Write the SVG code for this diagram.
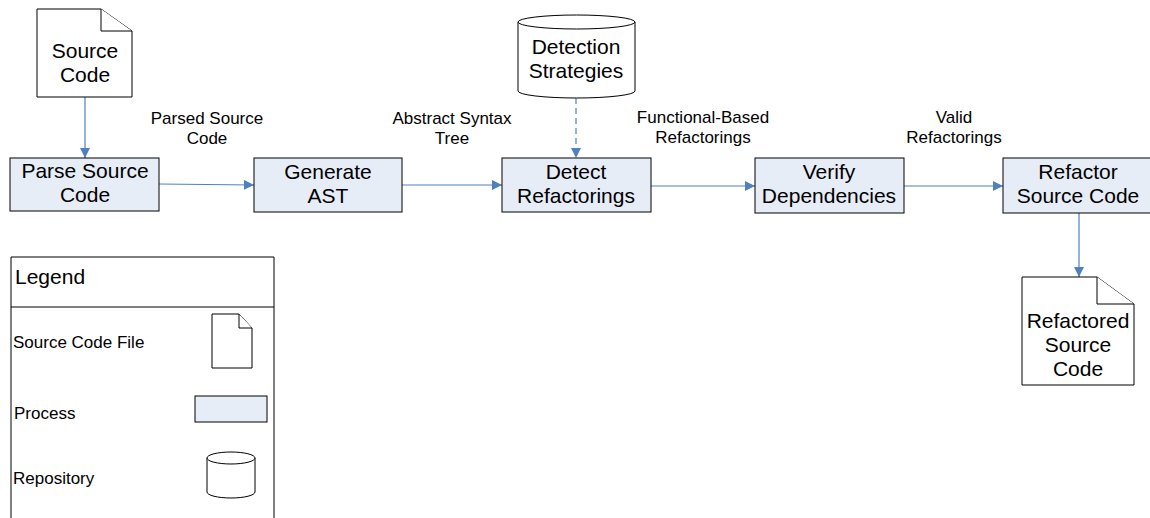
<svg xmlns="http://www.w3.org/2000/svg" width="1150" height="518" viewBox="0 0 1150 518">
  <style>
    .proc { fill: #e7edf7; stroke: #000; stroke-width: 1; }
    .shape { fill: #fff; stroke: #000; stroke-width: 1; }
    .box-t { font-family: "Liberation Sans", Arial, sans-serif; font-size: 21px; fill: #000; text-anchor: middle; }
    .lbl { font-family: "Liberation Sans", Arial, sans-serif; font-size: 17px; fill: #000; text-anchor: middle; }
    .leg { font-family: "Liberation Sans", Arial, sans-serif; font-size: 17px; fill: #000; }
    .leg-title { font-family: "Liberation Sans", Arial, sans-serif; font-size: 21px; fill: #000; }
    .conn { stroke: #4f81bd; stroke-width: 1.2; fill: none; marker-end: url(#arrow); }
  </style>
  <defs>
    <marker id="arrow" viewBox="0 0 10 10" refX="10" refY="5" markerWidth="10" markerHeight="10" markerUnits="userSpaceOnUse" orient="auto">
      <path d="M0,0 L10,5 L0,10 Z" fill="#4f81bd"/>
    </marker>
  </defs>
  <rect width="1150" height="518" fill="#fff"/>

  <!-- connectors -->
  <g id="connectors">
    <line class="conn" x1="85" y1="97" x2="85" y2="158"/>
    <line class="conn" x1="159" y1="184" x2="254" y2="185"/>
    <line class="conn" x1="402" y1="185" x2="502" y2="185"/>
    <line class="conn" x1="576" y1="98" x2="576" y2="158" stroke-dasharray="6,4"/>
    <line class="conn" x1="651" y1="186" x2="755" y2="186"/>
    <line class="conn" x1="904" y1="186" x2="1003" y2="186"/>
    <line class="conn" x1="1079" y1="213" x2="1079" y2="277"/>
  </g>

  <!-- connector labels -->
  <g id="labels">
    <text class="lbl" x="207" y="124">Parsed Source</text>
    <text class="lbl" x="207" y="144">Code</text>
    <text class="lbl" x="452" y="124">Abstract Syntax</text>
    <text class="lbl" x="452" y="144">Tree</text>
    <text class="lbl" x="703" y="123">Functional-Based</text>
    <text class="lbl" x="703" y="143">Refactorings</text>
    <text class="lbl" x="954" y="123">Valid</text>
    <text class="lbl" x="954" y="143">Refactorings</text>
  </g>

  <g id="source-code">
    <path class="shape" d="M37,9 H101 L132,31 V97 H37 Z"/>
    <path class="shape" d="M101,9 V31 H132" fill="none"/>
    <text class="box-t" x="85" y="58">Source</text>
    <text class="box-t" x="85" y="82">Code</text>
  </g>

  <g id="parse-source-code">
    <rect class="proc" x="10" y="158" width="149" height="53"/>
    <text class="box-t" x="85" y="178">Parse Source</text>
    <text class="box-t" x="85" y="202">Code</text>
  </g>

  <g id="generate-ast">
    <rect class="proc" x="254" y="158" width="148" height="54"/>
    <text class="box-t" x="328" y="179">Generate</text>
    <text class="box-t" x="328" y="203">AST</text>
  </g>

  <g id="detection-strategies">
    <path class="shape" d="M518,22 V91 A58.5,7 0 0 0 635,91 V22"/>
    <ellipse class="shape" cx="576.5" cy="22" rx="58.5" ry="7"/>
    <text class="box-t" x="576" y="54">Detection</text>
    <text class="box-t" x="576" y="78">Strategies</text>
  </g>

  <g id="detect-refactorings">
    <rect class="proc" x="502" y="158" width="149" height="54"/>
    <text class="box-t" x="576" y="179">Detect</text>
    <text class="box-t" x="576" y="203">Refactorings</text>
  </g>

  <g id="verify-dependencies">
    <rect class="proc" x="755" y="158" width="149" height="55"/>
    <text class="box-t" x="829" y="179">Verify</text>
    <text class="box-t" x="829" y="203">Dependencies</text>
  </g>

  <g id="refactor-source-code">
    <rect class="proc" x="1003" y="158" width="149" height="55"/>
    <text class="box-t" x="1078" y="179">Refactor</text>
    <text class="box-t" x="1078" y="203">Source Code</text>
  </g>

  <g id="refactored-source-code">
    <path class="shape" d="M1022,277 H1097 L1134,304 V385 H1022 Z"/>
    <path class="shape" d="M1097,277 V304 H1134" fill="none"/>
    <text class="box-t" x="1078" y="328">Refactored</text>
    <text class="box-t" x="1078" y="352">Source</text>
    <text class="box-t" x="1078" y="376">Code</text>
  </g>

  <g id="legend">
    <path class="shape" d="M11,520 V257 H274 V520" />
    <line x1="11" y1="307" x2="274" y2="307" stroke="#000" stroke-width="1"/>
    <text class="leg-title" x="15" y="284">Legend</text>
    <text class="leg" x="13" y="348">Source Code File</text>
    <path class="shape" d="M212,314 H239 L252,328 V368 H212 Z"/>
    <path class="shape" d="M239,314 V328 H252" fill="none"/>
    <text class="leg" x="14" y="419">Process</text>
    <rect class="proc" x="195" y="396" width="72" height="26"/>
    <text class="leg" x="13" y="484">Repository</text>
    <path class="shape" d="M207,458 V492 A24,6 0 0 0 255,492 V458"/>
    <ellipse class="shape" cx="231" cy="458" rx="24" ry="6"/>
  </g>
</svg>
